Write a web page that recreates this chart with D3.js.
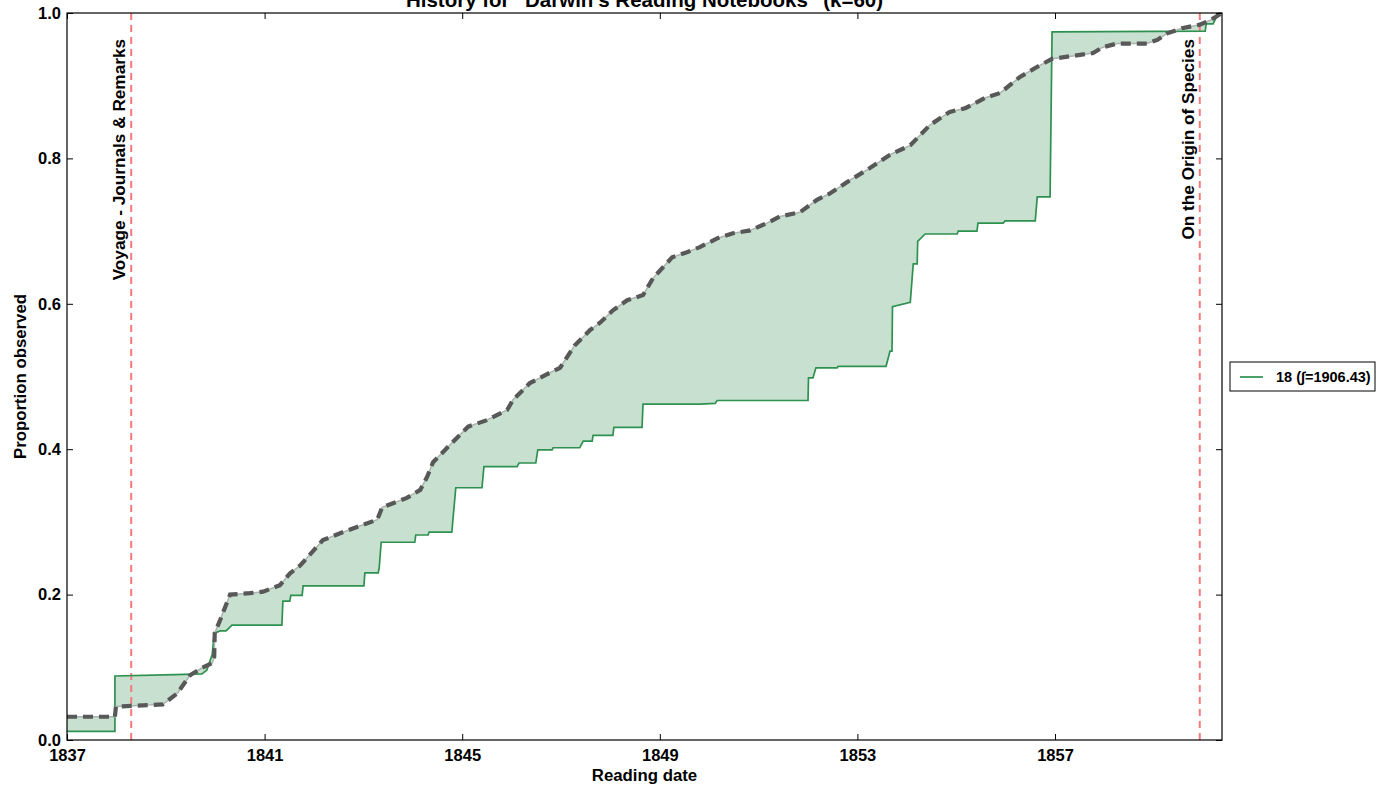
<!DOCTYPE html>
<html>
<head>
<meta charset="utf-8">
<script src="https://cdn.jsdelivr.net/npm/d3@7"></script>
<style>
  body { margin: 0; background: #fff; }
  text { font-family: "Liberation Sans", Arial, sans-serif; font-weight: bold; fill: #000; }
</style>
</head>
<body>
<div id="chart"></div>
<script>
// observed cumulative proportion (green step line): [year, proportion]
var observed = [
  [1837.00, 0.012], [1837.97, 0.012], [1837.97, 0.088], [1839.19, 0.090], [1839.73, 0.091],
  [1839.83, 0.096], [1839.94, 0.118], [1839.98, 0.147], [1840.10, 0.150], [1840.22, 0.150],
  [1840.34, 0.158], [1841.35, 0.158], [1841.37, 0.191], [1841.51, 0.191], [1841.53, 0.199],
  [1841.76, 0.199], [1841.78, 0.212], [1843.01, 0.212], [1843.03, 0.230], [1843.30, 0.230],
  [1843.32, 0.237], [1843.36, 0.272], [1844.04, 0.272], [1844.06, 0.282], [1844.31, 0.282],
  [1844.33, 0.286], [1844.79, 0.286], [1844.87, 0.347], [1845.40, 0.347], [1845.44, 0.376],
  [1846.11, 0.376], [1846.15, 0.381], [1846.49, 0.381], [1846.53, 0.399], [1846.82, 0.399],
  [1846.84, 0.402], [1847.38, 0.402], [1847.45, 0.411], [1847.63, 0.411], [1847.65, 0.419],
  [1848.05, 0.419], [1848.07, 0.430], [1848.64, 0.430], [1848.66, 0.462], [1849.81, 0.462],
  [1850.12, 0.463], [1850.16, 0.467], [1852.00, 0.467], [1852.01, 0.498], [1852.10, 0.498],
  [1852.16, 0.512], [1852.59, 0.512], [1852.61, 0.514], [1853.58, 0.514], [1853.66, 0.535],
  [1853.70, 0.535], [1853.71, 0.596], [1854.07, 0.602], [1854.13, 0.655], [1854.21, 0.655],
  [1854.22, 0.686], [1854.37, 0.696], [1855.02, 0.696], [1855.04, 0.700], [1855.42, 0.700],
  [1855.44, 0.711], [1855.95, 0.711], [1855.99, 0.714], [1856.60, 0.714], [1856.64, 0.747],
  [1856.90, 0.747], [1856.94, 0.974], [1860.04, 0.975], [1860.06, 0.985], [1860.20, 0.985],
  [1860.30, 0.999], [1860.38, 1.000]
];

// expected cumulative proportion (grey dashed line)
var expected = [
  [1837.00, 0.032], [1837.97, 0.032], [1837.99, 0.046], [1838.94, 0.049], [1839.23, 0.064],
  [1839.49, 0.089], [1839.73, 0.099], [1839.94, 0.106], [1839.98, 0.114], [1839.99, 0.147],
  [1840.10, 0.165], [1840.30, 0.200], [1840.70, 0.202], [1840.97, 0.204], [1841.31, 0.213],
  [1841.51, 0.229], [1841.72, 0.240], [1842.18, 0.275], [1842.59, 0.286], [1842.87, 0.293],
  [1843.28, 0.303], [1843.38, 0.320], [1843.88, 0.333], [1844.15, 0.344], [1844.29, 0.362],
  [1844.41, 0.382], [1844.81, 0.410], [1845.12, 0.431], [1845.50, 0.440], [1845.91, 0.454],
  [1846.03, 0.468], [1846.37, 0.491], [1846.68, 0.502], [1846.98, 0.512], [1847.28, 0.543],
  [1847.59, 0.564], [1847.79, 0.574], [1848.05, 0.591], [1848.34, 0.605], [1848.66, 0.612],
  [1848.86, 0.635], [1849.25, 0.664], [1849.55, 0.671], [1849.81, 0.678], [1850.16, 0.690],
  [1850.48, 0.697], [1850.83, 0.701], [1851.17, 0.711], [1851.43, 0.720], [1851.84, 0.726],
  [1852.18, 0.743], [1852.45, 0.752], [1852.85, 0.770], [1853.26, 0.787], [1853.66, 0.805],
  [1854.07, 0.818], [1854.47, 0.846], [1854.87, 0.864], [1855.18, 0.869], [1855.58, 0.883],
  [1855.89, 0.890], [1856.29, 0.912], [1856.64, 0.926], [1856.94, 0.937], [1857.36, 0.941],
  [1857.77, 0.945], [1857.97, 0.953], [1858.26, 0.958], [1858.86, 0.958], [1859.07, 0.963],
  [1859.27, 0.972], [1859.57, 0.979], [1859.93, 0.984], [1860.14, 0.990], [1860.38, 1.000]
];

var events = [
  {year: 1838.30, label: "Voyage - Journals & Remarks"},
  {year: 1859.93, label: "On the Origin of Species"}
];

var xTicks = [1837, 1841, 1845, 1849, 1853, 1857];
var yTicks = [0.0, 0.2, 0.4, 0.6, 0.8, 1.0];
var xDomain = [1837, 1860.38];
var legendLabel = "18 (\u222B=1906.43)";
var chartTitle = "History for \"Darwin's Reading Notebooks\" (k=60)";

var W = 1377, H = 786;
var pl = 67, pr = 1222, pt = 13, pb = 740;

var svg = d3.select("#chart").append("svg")
  .attr("width", W).attr("height", H);

var x = d3.scaleLinear().domain(xDomain).range([pl, pr]);
var y = d3.scaleLinear().domain([0, 1]).range([pb, pt]);

var line = d3.line()
  .x(function(d) { return x(d[0]); })
  .y(function(d) { return y(d[1]); });

// band between the two curves
var band = observed.concat(expected.slice().reverse());
svg.append("path")
  .attr("d", line(band) + "Z")
  .attr("fill", "#c7e0d0")
  .attr("stroke", "none");

// event markers
svg.selectAll(".event").data(events).enter()
  .append("line")
    .attr("x1", function(d) { return x(d.year); })
    .attr("x2", function(d) { return x(d.year); })
    .attr("y1", pt)
    .attr("y2", pb)
    .attr("stroke", "#f57a7c")
    .attr("stroke-width", 2)
    .attr("stroke-dasharray", "7,5");

svg.append("path")
  .attr("d", line(observed))
  .attr("fill", "none")
  .attr("stroke", "#2f9150")
  .attr("stroke-width", 1.7);

svg.append("path")
  .attr("d", line(expected))
  .attr("fill", "none")
  .attr("stroke", "#aab3ad")
  .attr("stroke-width", 1.5);

svg.append("path")
  .attr("d", line(expected))
  .attr("fill", "none")
  .attr("stroke", "#585858")
  .attr("stroke-width", 4.2)
  .attr("stroke-dasharray", "10,6");

// annotations, vertical, hanging from the top
svg.selectAll(".ev-label").data(events).enter()
  .append("text")
    .attr("transform", function(d) {
      return "translate(" + (x(d.year) - 6) + "," + 39 + ") rotate(-90)";
    })
    .style("text-anchor", "end")
    .style("font-size", "17.2px")
    .text(function(d) { return d.label; });

// axes: ticks point inward on all four sides
var gx = svg.append("g")
  .attr("transform", "translate(0," + pb + ")")
  .call(d3.axisBottom(x).tickValues(xTicks).tickFormat(d3.format("d"))
    .tickSizeInner(-6).tickSizeOuter(0).tickPadding(9));
gx.selectAll("text").style("font-size", "16.5px");

svg.append("g")
  .attr("transform", "translate(0," + pt + ")")
  .call(d3.axisTop(x).tickValues(xTicks).tickFormat("")
    .tickSizeInner(-6).tickSizeOuter(0));

var gy = svg.append("g")
  .attr("transform", "translate(" + pl + ",0)")
  .call(d3.axisLeft(y).tickValues(yTicks).tickFormat(d3.format(".1f"))
    .tickSizeInner(-6).tickSizeOuter(0).tickPadding(6));
gy.selectAll("text").style("font-size", "16.5px");

svg.append("g")
  .attr("transform", "translate(" + pr + ",0)")
  .call(d3.axisRight(y).tickValues(yTicks).tickFormat("")
    .tickSizeInner(-6).tickSizeOuter(0));

svg.selectAll(".domain").remove();
svg.selectAll(".tick line").attr("stroke", "#000");

svg.append("rect")
  .attr("x", pl).attr("y", pt)
  .attr("width", pr - pl).attr("height", pb - pt)
  .attr("fill", "none")
  .attr("stroke", "#000")
  .attr("stroke-width", 1.2);

// labels
svg.append("text")
  .attr("x", (pl + pr) / 2).attr("y", 7)
  .style("text-anchor", "middle")
  .style("font-size", "20.5px")
  .text(chartTitle);

svg.append("text")
  .attr("x", (pl + pr) / 2).attr("y", 781)
  .style("text-anchor", "middle")
  .style("font-size", "16.8px")
  .text("Reading date");

svg.append("text")
  .attr("transform", "translate(26," + ((pt + pb) / 2) + ") rotate(-90)")
  .style("text-anchor", "middle")
  .style("font-size", "16.8px")
  .text("Proportion observed");

// legend
var lg = svg.append("g").attr("transform", "translate(1230,362)");
lg.append("rect")
  .attr("width", 145).attr("height", 29)
  .attr("fill", "#fff").attr("stroke", "#000").attr("stroke-width", 1);
lg.append("line")
  .attr("x1", 10).attr("x2", 33).attr("y1", 15).attr("y2", 15)
  .attr("stroke", "#2f9150").attr("stroke-width", 1.7);
lg.append("text")
  .attr("x", 46).attr("y", 20)
  .style("font-size", "14.5px")
  .text(legendLabel);
</script>
</body>
</html>
